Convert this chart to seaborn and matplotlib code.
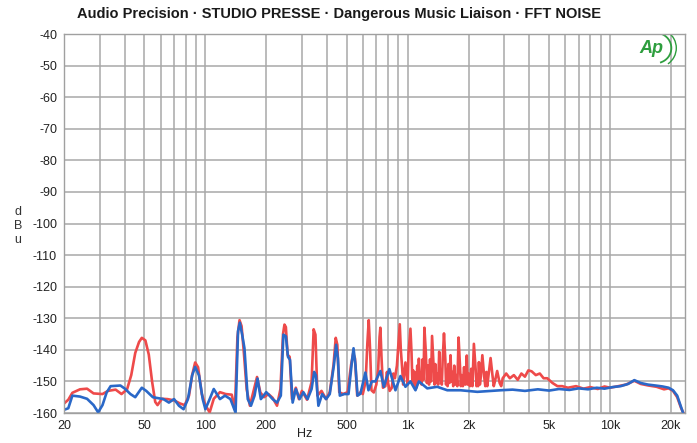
import numpy as np
import pandas as pd
import matplotlib
matplotlib.use("Agg")
import matplotlib.pyplot as plt
import seaborn as sns
from matplotlib.ticker import FixedLocator, FixedFormatter, MultipleLocator, NullFormatter
from matplotlib.patches import Arc

title = "Audio Precision \u00b7 STUDIO PRESSE \u00b7 Dangerous Music Liaison \u00b7 FFT NOISE"
x_tick_values = [20, 50, 100, 200, 500, 1000, 2000, 5000, 10000, 20000]
x_tick_labels = ["20", "50", "100", "200", "500", "1k", "2k", "5k", "10k", "20k"]
x_grid_minor = [30, 40, 60, 70, 80, 90, 300, 400, 600, 700, 800, 900,
                3000, 4000, 6000, 7000, 8000, 9000]
y_tick_values = [-40, -50, -60, -70, -80, -90, -100, -110, -120, -130, -140, -150, -160]

red_freq = [20, 21, 22, 24, 26, 28, 31, 33, 36, 38.5, 41, 43, 45, 47, 48.5, 50.5, 52.5, 54.5,
            56.5, 58, 61, 65, 70, 75, 79, 83, 86, 89, 92, 96, 100, 105, 110, 118, 126, 135,
            140, 144, 147.5, 151, 155, 160, 166, 173, 180, 187, 195, 205, 215, 226, 235, 242,
            246, 250, 255, 261, 268, 280, 290, 300, 318, 335, 343, 350, 358, 375, 395, 412,
            430, 441, 449, 459, 480, 505, 525, 538, 549, 563, 585, 600, 620, 632, 642, 652,
            662, 680, 700, 715, 726, 733, 742, 755, 776, 790, 800, 815, 835, 850, 865, 885,
            900, 914, 925, 940, 950, 960, 975, 990, 1000, 1010, 1032, 1045, 1055, 1065, 1080,
            1093, 1105, 1115, 1125, 1136, 1150, 1160, 1172, 1185, 1198, 1210, 1230, 1245,
            1260, 1275, 1290, 1305, 1320, 1345, 1358, 1370, 1385, 1400, 1415, 1432, 1446,
            1460, 1475, 1490, 1512, 1535, 1548, 1560, 1575, 1590, 1610, 1629, 1645, 1660,
            1680, 1700, 1720, 1740, 1760, 1785, 1815, 1832, 1850, 1875, 1900, 1930, 1960,
            1980, 2000, 2030, 2060, 2090, 2125, 2170, 2190, 2210, 2230, 2250, 2275, 2300,
            2340, 2390, 2420, 2450, 2475, 2500, 2570, 2630, 2665, 2700, 2770, 2850, 2900,
            2950, 3070, 3200, 3350, 3500, 3650, 3800, 3950, 4100, 4300, 4500, 4700, 4900,
            5200, 5500, 5800, 6200, 6800, 7400, 8000, 8700, 9400, 10000, 11000, 12000, 13200,
            14200, 15500, 17000, 18500, 19500, 20500, 21500, 22500, 23500]
red_db = [-157.0, -155.8, -153.6, -152.5, -152.3, -153.8, -154.0, -153.0, -152.6, -154.0,
          -152.5, -148.0, -141.0, -137.5, -136.2, -137.0, -141.5, -150.0, -156.5, -157.5,
          -155.5, -155.6, -156.0, -157.0, -157.5, -154.5, -148.0, -144.0, -145.5, -154.0,
          -157.5, -159.8, -155.5, -153.4, -154.0, -154.2, -158.8, -136.0, -130.6, -132.5,
          -141.0, -152.5, -157.7, -153.0, -148.6, -153.5, -155.0, -154.0, -155.2, -157.7,
          -152.4, -135.0, -132.0, -132.8, -141.6, -142.2, -155.6, -152.0, -155.6, -153.0,
          -155.8, -150.2, -133.5, -135.2, -154.5, -153.0, -155.6, -153.4, -144.8, -136.2,
          -138.4, -153.4, -154.0, -153.4, -144.8, -141.1, -142.7, -154.5, -153.4, -154.0,
          -150.0, -138.0, -130.6, -140.0, -152.8, -153.5, -151.0, -146.0, -136.0, -133.0,
          -142.0, -152.0, -151.5, -147.0, -150.5, -153.0, -152.0, -147.5, -149.0, -145.0,
          -138.0, -131.9, -140.0, -146.0, -151.0, -148.3, -144.0, -148.0, -151.0, -141.0,
          -133.3, -141.0, -150.0, -146.5, -151.5, -147.2, -152.0, -145.0, -150.5, -142.8,
          -150.0, -147.5, -151.0, -143.0, -149.5, -133.0, -141.0, -150.5, -145.0, -151.0,
          -143.0, -150.0, -135.6, -146.0, -151.0, -144.5, -150.5, -147.5, -151.0, -140.6,
          -149.5, -146.5, -151.0, -143.0, -134.8, -143.0, -151.0, -147.5, -151.5, -144.5,
          -150.5, -141.7, -150.0, -147.0, -151.5, -145.0, -151.0, -148.0, -151.5, -136.1,
          -145.5, -151.5, -148.0, -151.5, -145.5, -151.0, -141.8, -151.0, -147.5, -151.5,
          -146.0, -151.5, -138.1, -146.5, -151.5, -148.5, -151.5, -143.9, -151.0, -148.5,
          -141.7, -148.5, -151.5, -147.0, -151.5, -149.0, -142.6, -148.5, -151.5, -150.0,
          -146.7, -150.5, -151.5, -149.0, -147.5, -149.0, -148.0, -149.5, -147.5, -148.5,
          -146.5, -146.8, -148.0, -147.5, -149.0, -149.0, -150.5, -151.5, -151.5, -152.0,
          -151.5, -152.3, -151.8, -152.4, -151.6, -152.0, -151.5, -151.0, -149.8, -150.8,
          -151.3, -151.7, -152.5, -152.2, -153.0, -155.0, -158.5, -161.0]

blue_freq = [20, 21, 22, 24, 26, 28, 29.5, 31, 32.5, 34, 38, 40, 42.6, 45, 48.5, 51, 55,
             62, 66, 70, 74, 78, 82, 86, 89, 93, 97, 100, 105, 110, 118, 125, 133, 141,
             145, 148, 152, 156, 162, 168, 175, 181, 188, 200, 215, 226, 236, 243, 250,
             256, 262, 270, 280, 292, 305, 320, 335, 345, 352, 362, 378, 395, 412, 432,
             443, 452, 462, 485, 510, 530, 540, 552, 565, 584, 618, 640, 665, 693, 733,
             762, 812, 870, 921, 975, 1032, 1093, 1136, 1250, 1400, 1570, 1826, 2210,
             2880, 3300, 3800, 4400, 5000, 5600, 6300, 7000, 7800, 8600, 9400, 10300,
             11300, 12300, 13200, 14200, 15400, 16800, 18200, 19500, 20500, 21500, 22300,
             23000, 23500]
blue_db = [-159.0, -158.5, -154.5, -154.8, -155.5, -157.5, -159.8, -157.5, -153.5, -151.5,
           -151.3, -152.3, -154.0, -155.0, -152.0, -153.0, -155.0, -155.6, -156.7, -155.6,
           -157.7, -158.8, -155.6, -148.1, -145.4, -148.1, -155.6, -158.8, -155.6, -152.4,
           -155.6, -154.5, -155.6, -159.9, -134.1, -131.4, -135.2, -139.5, -155.6, -157.7,
           -154.5, -149.1, -155.6, -153.4, -155.6, -156.7, -154.5, -135.2, -135.7, -142.2,
           -143.2, -156.7, -152.4, -155.6, -153.4, -155.6, -152.4, -147.0, -148.1, -157.7,
           -154.0, -155.6, -154.0, -144.8, -138.4, -142.7, -154.5, -154.0, -154.0, -143.8,
           -139.5, -144.8, -154.5, -153.9, -147.2, -152.8, -150.0, -150.0, -146.7, -151.7,
           -146.1, -152.8, -148.3, -151.7, -150.0, -152.8, -150.0, -152.2, -151.7, -152.8,
           -152.8, -153.3, -152.8, -152.6, -153.0, -152.5, -152.9, -152.4, -152.7, -152.2,
           -152.5, -152.0, -152.3, -151.8, -151.5, -150.8, -149.6, -150.5, -151.0, -151.3,
           -151.6, -152.0, -152.8, -154.5, -157.5, -160.0, -161.5]

sns.set_style("white")
plt.rcParams["font.family"] = ["Liberation Sans", "DejaVu Sans"]
plt.rcParams["axes.unicode_minus"] = False

fig = plt.figure(figsize=(6.97, 4.43), dpi=100)
ax = fig.add_axes([64 / 697, 1 - 413 / 443, 621 / 697, 379 / 443])

df = pd.concat([
    pd.DataFrame({"Hz": red_freq, "dB": red_db, "trace": "A"}),
    pd.DataFrame({"Hz": blue_freq, "dB": blue_db, "trace": "B"}),
], ignore_index=True)

sns.lineplot(data=df, x="Hz", y="dB", hue="trace",
             palette={"A": "#ee4a4a", "B": "#2a68c8"},
             estimator=None, sort=False, lw=1.9, legend=False, ax=ax)

ax.set_xscale("log")
ax.set_xlim(20, 23500)
ax.set_ylim(-160, -40)

ax.xaxis.set_major_locator(FixedLocator(x_tick_values))
ax.xaxis.set_major_formatter(FixedFormatter(x_tick_labels))
ax.xaxis.set_minor_locator(FixedLocator(x_grid_minor))
ax.xaxis.set_minor_formatter(NullFormatter())
ax.yaxis.set_major_locator(FixedLocator(y_tick_values))
ax.yaxis.set_minor_locator(MultipleLocator(2))

grid_c = "#a8a8a8"
ax.grid(True, which="both", axis="x", color=grid_c, lw=1.1)
ax.grid(True, which="major", axis="y", color=grid_c, lw=1.1)
ax.set_axisbelow(True)

ax.tick_params(axis="x", which="both", length=0, labelsize=9, pad=5, colors="#222222")
ax.tick_params(axis="y", which="major", length=3, labelsize=9, pad=2, colors="#222222", color="#999999")
ax.tick_params(axis="y", which="minor", length=2, color="#aaaaaa")
for s in ax.spines.values():
    s.set_color("#a0a0a0")
    s.set_linewidth(1.0)

ax.set_xlabel("")
ax.set_ylabel("")

fig.text(0.487, 0.968, title, ha="center", va="center", fontsize=10.5,
         fontweight="bold", color="#1a1a1a")
fig.text(0.026, 0.49, "d\nB\nu", ha="center", va="center", fontsize=9, linespacing=1.25, color="#333333")
fig.text(305 / 697, 1 - 434 / 443, "Hz", ha="center", va="center", fontsize=9, color="#222222")

logo_c = "#2e9e3e"
ax.text(0.946, 0.963, "Ap", transform=ax.transAxes, color=logo_c, fontsize=13,
        fontweight="bold", style="italic", ha="center", va="center")
ax.add_patch(Arc((0.953, 0.963), 0.05, 0.08, theta1=-80, theta2=80,
                 transform=ax.transAxes, color=logo_c, lw=1.3))
ax.add_patch(Arc((0.953, 0.963), 0.066, 0.104, theta1=-65, theta2=65,
                 transform=ax.transAxes, color=logo_c, lw=1.0))

fig.savefig("out.png", dpi=100)
